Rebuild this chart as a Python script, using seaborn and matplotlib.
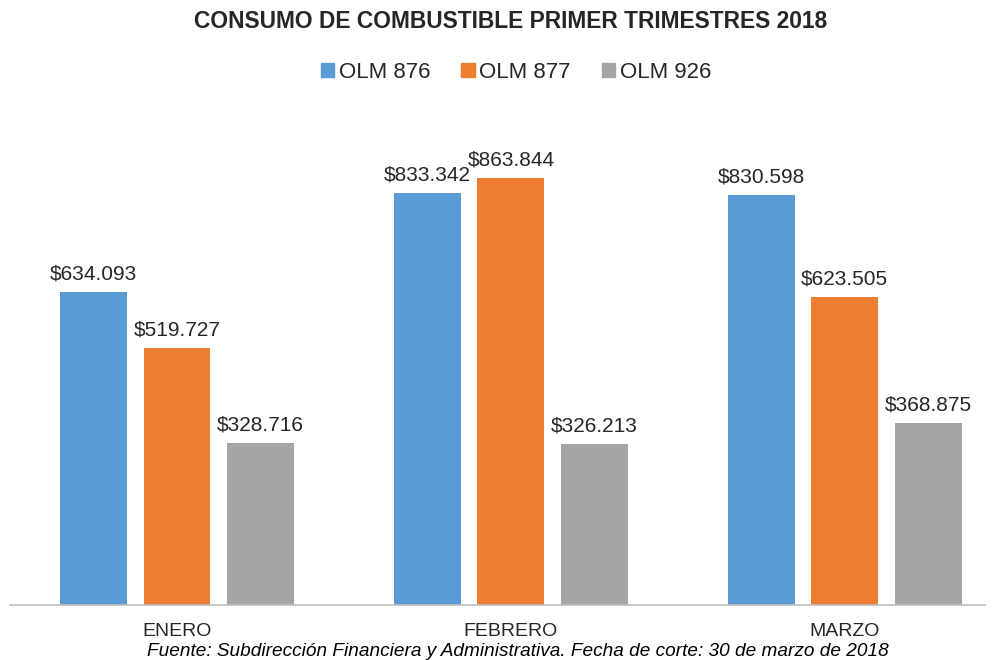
import matplotlib
matplotlib.use("Agg")
import matplotlib.pyplot as plt
import pandas as pd
import seaborn as sns

# Datos del gráfico
meses = ["ENERO", "FEBRERO", "MARZO"]
series = ["OLM 876", "OLM 877", "OLM 926"]
olm_876 = [634.093, 833.342, 830.598]
olm_877 = [519.727, 863.844, 623.505]
olm_926 = [328.716, 326.213, 368.875]
colores = ["#5B9BD5", "#ED7D31", "#A5A5A5"]

df = pd.DataFrame({
    "mes": meses * 3,
    "serie": [s for s in series for _ in meses],
    "valor": olm_876 + olm_877 + olm_926,
})

sns.set_style("white")
plt.rcParams["font.family"] = ["Liberation Sans", "DejaVu Sans"]

fig = plt.figure(figsize=(9.98, 6.6), dpi=100)
ax = fig.add_axes([10 / 998, 55 / 660, 975 / 998, 494 / 660])

sns.barplot(data=df, x="mes", y="valor", hue="serie", order=meses,
            hue_order=series, palette=colores, width=0.75, gap=0.2,
            saturation=1, linewidth=0, ax=ax, legend=False)

for cont in ax.containers:
    ax.bar_label(cont, labels=[f"${v:.3f}" for v in cont.datavalues],
                 padding=6, fontsize=15, color="#262626")

ax.set_ylim(0, 1000)
ax.set_xlim(-0.5, 2.42)
ax.set_xlabel("")
ax.set_ylabel("")
ax.set_yticks([])
ax.tick_params(axis="x", length=0, labelsize=14, colors="#262626", pad=13)
for s in ["top", "right", "left"]:
    ax.spines[s].set_visible(False)
ax.spines["bottom"].set_color("#BFBFBF")
ax.spines["bottom"].set_linewidth(1.2)

fig.text(0.512, 1 - 22 / 660, "CONSUMO DE COMBUSTIBLE PRIMER TRIMESTRES 2018",
         ha="center", va="center", fontsize=16.4, fontweight="bold", color="#262626")

handles = [plt.Rectangle((0, 0), 1, 1, color=c) for c in colores]
fig.legend(handles, series, loc="center", bbox_to_anchor=(0.517, 1 - 72 / 660),
           ncol=3, frameon=False, fontsize=16, handlelength=0.6, handleheight=0.6,
           handletextpad=0.2, columnspacing=1.4)

fig.text(0.519, 1 - 652 / 660,
         "Fuente: Subdirección Financiera y Administrativa. Fecha de corte: 30 de marzo de 2018",
         ha="center", va="center", fontsize=13.7, fontstyle="italic", color="#000000")

fig.savefig("out.png", dpi=100)
